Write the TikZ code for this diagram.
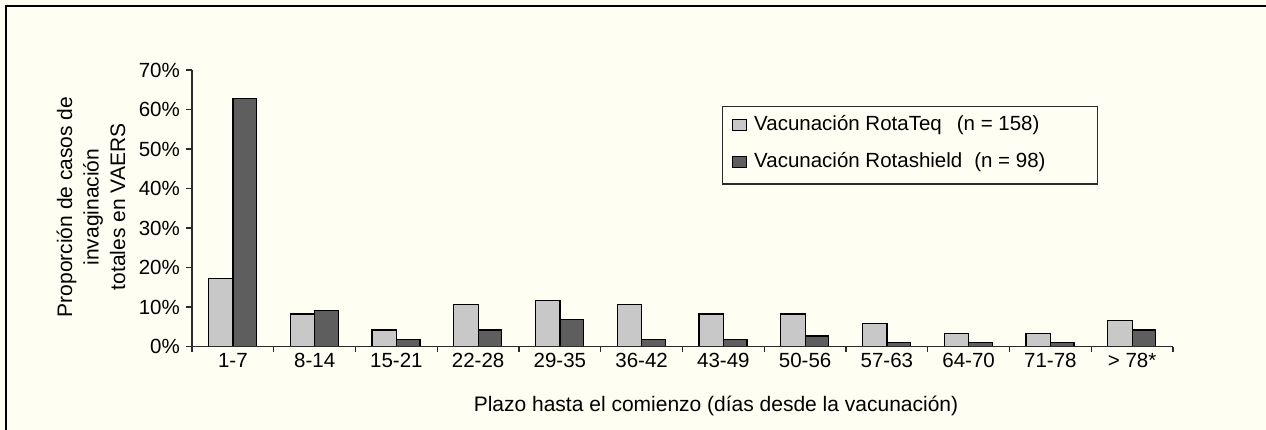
\documentclass[tikz,border=0pt]{standalone}
\usepackage{fontspec}
\setmainfont{Liberation Sans}
\definecolor{bg}{HTML}{FFFEF2}
\definecolor{lightbar}{HTML}{C8C8C8}
\definecolor{darkbar}{HTML}{5E5E5E}
\definecolor{axiscol}{HTML}{2A2A2A}
\begin{document}
\begin{tikzpicture}[x=1pt,y=-1pt,
  txt/.style={font=\fontsize{20.5}{24}\selectfont, inner sep=0pt},
  barL/.style={fill=lightbar, draw=black, line width=1.3pt},
  barD/.style={fill=darkbar, draw=black, line width=1.3pt},
  axisline/.style={draw=axiscol, line width=1.4pt}]
\useasboundingbox (0,0) rectangle (1266,430);
\fill[bg] (0,0) rectangle (1266,430);
% frame (only top and left visible)
\draw[line width=1.6pt, black] (6,430) -- (6,6) -- (1266,6);
% bars
\def\zero{346.7}
\def\ppp{3.953}
\foreach \L/\D [count=\i from 0] in {17.3/62.8, 8.3/9.1, 4.2/1.9, 10.7/4.2, 11.6/6.8, 10.7/1.9, 8.3/1.9, 8.3/2.7, 5.8/1.0, 3.4/1.0, 3.4/1.0, 6.7/4.2}{
  \pgfmathsetmacro{\cx}{192+81.75*\i+40.9}
  \pgfmathsetmacro{\yl}{\zero-\ppp*\L}
  \pgfmathsetmacro{\yd}{\zero-\ppp*\D}
  \draw[barL] (\cx-24.5,\zero) rectangle (\cx,\yl);
  \draw[barD] (\cx,\zero) rectangle (\cx+23.5,\yd);
}
% axes
\draw[axisline] (192,70) -- (192,\zero) -- (1173,\zero);
\foreach \k/\t in {0/0\%,1/10\%,2/20\%,3/30\%,4/40\%,5/50\%,6/60\%,7/70\%}{
  \pgfmathsetmacro{\ty}{\zero-\ppp*10*\k}
  \draw[axisline] (186,\ty) -- (192,\ty);
  \node[txt, anchor=east] (yt\k) at (180,\ty) {\t};
}
\foreach \k in {0,...,12}{
  \pgfmathsetmacro{\tx}{192+81.75*\k}
  \draw[axisline] (\tx,\zero) -- (\tx,351.5);
}
\foreach \lab [count=\i from 0] in {1-7,8-14,15-21,22-28,29-35,36-42,43-49,50-56,57-63,64-70,71-78,> 78*}{
  \pgfmathsetmacro{\cx}{192+81.75*\i+40.9}
  \node[txt] (xt\i) at (\cx,360) {\lab};
}
% axis titles
\node[txt, rotate=90, align=center, font=\fontsize{21}{26.5}\selectfont] (ytitle) at (91,207)
  {Proporción de casos de\\invaginación\\totales en VAERS};
\node[txt, font=\fontsize{21}{24}\selectfont] (xtitle) at (716,406) {Plazo hasta el comienzo (días desde la vacunación)};
% legend
\draw[draw=axiscol, line width=1.4pt] (722.7,106.7) rectangle (1097.3,184);
\draw[fill=lightbar, draw=black, line width=1pt] (732.5,119.5) rectangle (746.5,130.5);
\draw[fill=darkbar, draw=black, line width=1pt] (732.5,156.5) rectangle (746.5,167.5);
\node[txt, anchor=west] (leg1) at (754,125) {Vacunación RotaTeq\hspace{15pt}(n = 158)};
\node[txt, anchor=west] (leg2) at (754,162) {Vacunación Rotashield\hspace{12pt}(n = 98)};
\end{tikzpicture}
\end{document}
